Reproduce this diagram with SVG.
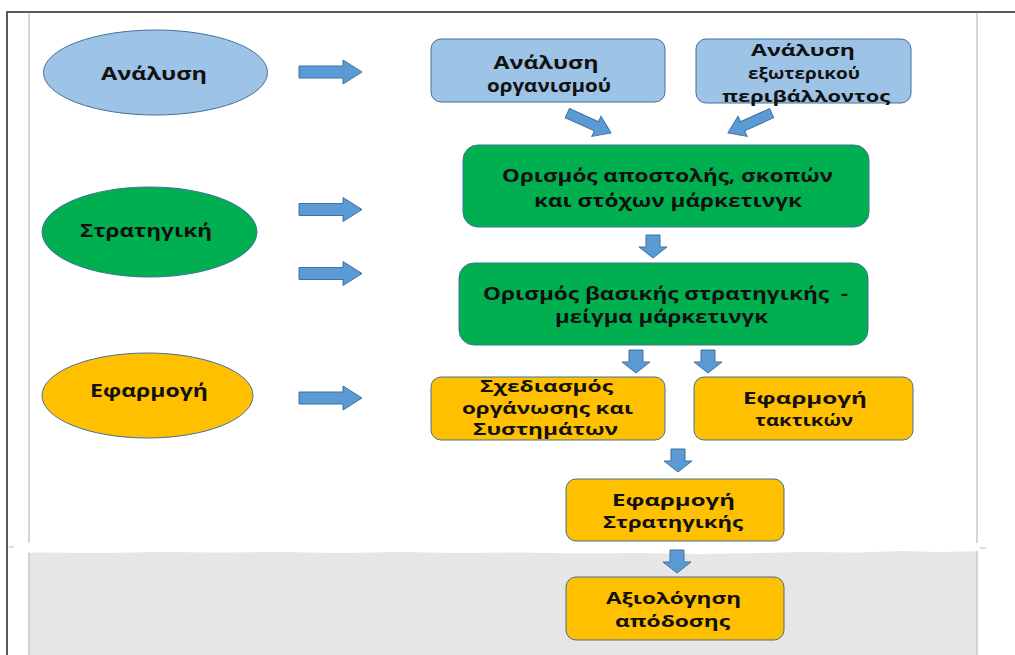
<svg xmlns="http://www.w3.org/2000/svg" width="1015" height="655" viewBox="0 0 1015 655">
  <style>
    .frame { fill: none; stroke: #5a5a5a; stroke-width: 2; }
    .guide { stroke: #c8c8c8; stroke-width: 1.5; }
    .shape { stroke: #41719c; stroke-width: 1; }
    .blue { fill: #9dc3e6; }
    .green { fill: #00b050; }
    .gold { fill: #ffc000; }
    .arrow { fill: #5b9bd5; stroke: #41719c; stroke-width: 1; }
    .t { font-family: "Open Sans", "DejaVu Sans", sans-serif; font-weight: 700; font-size: 18px; fill: #111; text-anchor: middle; }
    .s { font-size: 16px; }
    .pre { white-space: pre; }
  </style>
  <defs>
    <!-- block arrows, tip at the origin -->
    <path id="arrowR" class="arrow" d="M-63,-6 H-19 V-12 L0,0 L-19,12 V6 H-63 Z"/>
    <path id="arrowD" class="arrow" d="M-7,-23 H7 V-11 H14 L0,0 L-14,-11 H-7 Z"/>
    <path id="arrowS" class="arrow" d="M-48,-5 H-16 V-11 L0,0 L-16,11 V5 H-48 Z"/>
  </defs>

  <rect width="1015" height="655" fill="#ffffff"/>

  <!-- page background: shaded lower band -->
  <rect x="28" y="550" width="949" height="105" fill="#e6e6e6"/>
  <line class="guide" x1="29" y1="12" x2="29" y2="655"/>
  <line class="guide" x1="977" y1="12" x2="977" y2="655"/>
  <path d="M10,543 H986 V551 L940,552 L900,551 L860,552.5 L800,552 L760,553 L700,554 L640,553 L580,553.5 L520,552.5 L460,553 L400,552 L340,553 L280,552 L220,552.5 L160,552 L100,553 L40,552.5 L10,553 Z" fill="#ffffff"/>
  <line x1="9" y1="547" x2="14" y2="547" stroke="#bdbdbd" stroke-width="1"/>
  <line x1="980" y1="548" x2="986" y2="548" stroke="#bdbdbd" stroke-width="1"/>
  <path class="frame" d="M7,655 V12 H1015"/>

  <!-- phase ellipses -->
  <g id="phase-analysis">
    <ellipse class="shape blue" cx="155.5" cy="72.5" rx="112" ry="42.5"/>
    <text class="t" x="154" y="80" textLength="106" lengthAdjust="spacingAndGlyphs">Ανάλυση</text>
  </g>
  <g id="phase-strategy">
    <ellipse class="shape green" cx="149.5" cy="232" rx="107.5" ry="45"/>
    <text class="t" x="146" y="237" textLength="132" lengthAdjust="spacingAndGlyphs">Στρατηγική</text>
  </g>
  <g id="phase-implementation">
    <ellipse class="shape gold" cx="147.5" cy="395.5" rx="105.5" ry="42.5"/>
    <text class="t" x="149" y="397" textLength="118" lengthAdjust="spacingAndGlyphs">Εφαρμογή</text>
  </g>

  <!-- process boxes -->
  <g id="org-analysis">
    <rect class="shape blue" x="431" y="39" width="234" height="63" rx="10"/>
    <text class="t" x="546" y="69" textLength="105" lengthAdjust="spacingAndGlyphs">Ανάλυση</text>
    <text class="t" x="549" y="92" textLength="124" lengthAdjust="spacingAndGlyphs">οργανισμού</text>
  </g>
  <g id="env-analysis">
    <rect class="shape blue" x="696" y="39" width="215" height="64" rx="10"/>
    <text class="t s" x="803" y="56" textLength="104" lengthAdjust="spacingAndGlyphs">Ανάλυση</text>
    <text class="t s" x="804" y="79" textLength="112" lengthAdjust="spacingAndGlyphs">εξωτερικού</text>
    <text class="t s" x="806" y="102" textLength="168" lengthAdjust="spacingAndGlyphs">περιβάλλοντος</text>
  </g>
  <g id="mission">
    <rect class="shape green" x="463" y="145" width="406" height="82" rx="15"/>
    <text class="t" x="667.5" y="182" textLength="331" lengthAdjust="spacingAndGlyphs">Ορισμός αποστολής, σκοπών</text>
    <text class="t" x="668" y="207" textLength="268" lengthAdjust="spacingAndGlyphs">και στόχων μάρκετινγκ</text>
  </g>
  <g id="core-strategy">
    <rect class="shape green" x="459" y="263" width="409" height="82" rx="15"/>
    <text class="t pre" x="665.5" y="300" textLength="365" lengthAdjust="spacingAndGlyphs">Ορισμός βασικής στρατηγικής  -</text>
    <text class="t" x="661.5" y="323" textLength="213" lengthAdjust="spacingAndGlyphs">μείγμα μάρκετινγκ</text>
  </g>
  <g id="org-design">
    <rect class="shape gold" x="431" y="377" width="234" height="63" rx="10"/>
    <text class="t s" x="546.5" y="392" textLength="133" lengthAdjust="spacingAndGlyphs">Σχεδιασμός</text>
    <text class="t s" x="547.5" y="413.5" textLength="171" lengthAdjust="spacingAndGlyphs">οργάνωσης και</text>
    <text class="t s" x="545.5" y="435" textLength="145" lengthAdjust="spacingAndGlyphs">Συστημάτων</text>
  </g>
  <g id="tactics">
    <rect class="shape gold" x="694" y="377" width="219" height="63" rx="10"/>
    <text class="t s" x="805" y="404" textLength="124" lengthAdjust="spacingAndGlyphs">Εφαρμογή</text>
    <text class="t s" x="804" y="426" textLength="98" lengthAdjust="spacingAndGlyphs">τακτικών</text>
  </g>
  <g id="execution">
    <rect class="shape gold" x="566" y="479" width="218" height="62" rx="10"/>
    <text class="t s" x="673.5" y="506" textLength="123" lengthAdjust="spacingAndGlyphs">Εφαρμογή</text>
    <text class="t s" x="673" y="528" textLength="140" lengthAdjust="spacingAndGlyphs">Στρατηγικής</text>
  </g>
  <g id="evaluation">
    <rect class="shape gold" x="566" y="577" width="218" height="63" rx="10"/>
    <text class="t s" x="673.5" y="604" textLength="135" lengthAdjust="spacingAndGlyphs">Αξιολόγηση</text>
    <text class="t s" x="672.5" y="627" textLength="115" lengthAdjust="spacingAndGlyphs">απόδοσης</text>
  </g>

  <!-- connectors -->
  <g id="connectors">
    <use href="#arrowR" x="362" y="72"/>
    <use href="#arrowR" x="362" y="209.5"/>
    <use href="#arrowR" x="362" y="273.5"/>
    <use href="#arrowR" x="362" y="398"/>
    <use href="#arrowS" transform="translate(611,133) rotate(24.5)"/>
    <use href="#arrowS" transform="translate(728,133) rotate(155.5)"/>
    <use href="#arrowD" x="653" y="258"/>
    <use href="#arrowD" x="636" y="373"/>
    <use href="#arrowD" x="708" y="373"/>
    <use href="#arrowD" x="678" y="472"/>
    <use href="#arrowD" x="677" y="573"/>
  </g>
</svg>
